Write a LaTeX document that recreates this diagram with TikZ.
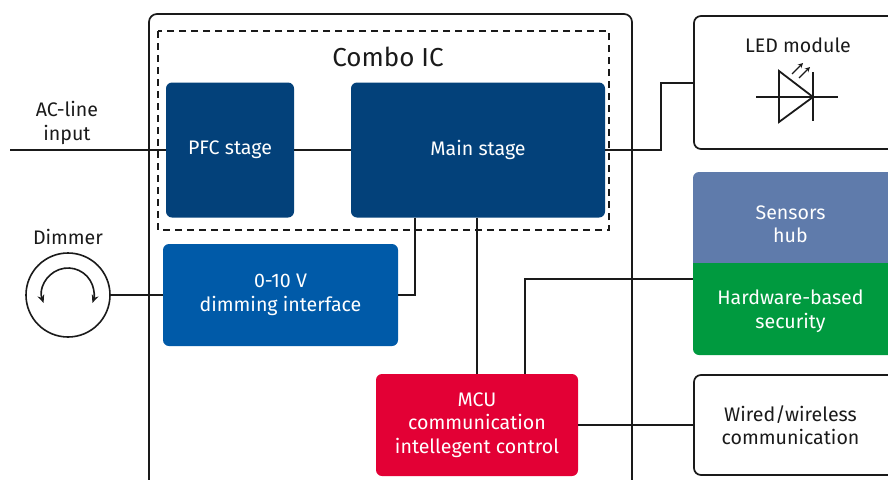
\documentclass[tikz,border=0pt]{standalone}
\usepackage{fontspec}
\setmainfont{Fira Sans}
\usetikzlibrary{arrows.meta}
\definecolor{navy}{HTML}{03417A}
\definecolor{dimblue}{HTML}{005AA8}
\definecolor{sensblue}{HTML}{5F7BAB}
\definecolor{secgreen}{HTML}{009A3F}
\definecolor{mcured}{HTML}{E30035}
\definecolor{ink}{HTML}{1A1A1A}
\begin{document}
\begin{tikzpicture}[x=1pt,y=-1pt,
  txt/.style={font=\fontsize{19.6}{23.5}\selectfont, align=center, inner sep=0pt},
  blockbox/.style={txt, text=white, rounded corners=6pt, minimum width=#1, anchor=center},
  wire/.style={line width=1.7pt, draw=ink},
  plainbox/.style={line width=1.7pt, draw=ink, rounded corners=7pt}]
\useasboundingbox (0,0) rectangle (888,479);
% outer board
\draw[plainbox, rounded corners=8pt] (149,495) -- (149,14) -- (632,14) -- (632,495);
% combo IC dashed frame
\draw[line width=1.9pt, draw=ink, dash pattern=on 7pt off 5pt] (158,31) rectangle (609,230);
\node[font=\fontsize{26}{30}\selectfont, text=ink] (combo) at (388,57) {Combo IC};
% blocks
\node[blockbox=128pt, fill=navy, minimum height=135pt] (pfc) at (230,150) {PFC stage};
\node[blockbox=254pt, fill=navy, minimum height=135pt] (main) at (478,150) {Main stage};
\node[blockbox=235pt, fill=dimblue, minimum height=102pt] (dim) at (280.5,295) {0-10 V\\dimming interface};
\node[blockbox=202pt, fill=mcured, minimum height=102pt] (mcu) at (477,425) {MCU\\communication\\intellegent control};
% right column
\draw[plainbox] (920,149) -- (694,149) -- (694,16) -- (920,16);
\node[txt, text=ink] (ledlabel) at (798,45) {LED module};
\fill[sensblue] (693,290) [rounded corners=6pt] -- (693,172) [sharp corners] -- (920,172) -- (920,290) -- cycle;
\fill[secgreen] (693,263) -- (920,263) -- (920,355) [rounded corners=6pt] -- (693,355) [sharp corners] -- cycle;
\node[txt, text=white, minimum width=195pt, minimum height=91pt] (sens) at (790.5,224) {Sensors\\hub};
\node[txt, text=white, minimum width=195pt, minimum height=92pt] (sec) at (790.5,311) {Hardware-based\\security};
\draw[plainbox] (920,475) -- (694,475) -- (694,375) -- (920,375);
\node[txt, text=ink, minimum width=195pt, minimum height=100pt] (wired) at (790.5,425) {Wired/wireless\\communication};
\coordinate (ledin) at (694,83);
\coordinate (wiredin) at (694,425);
% LED symbol
\draw[line width=1.8pt, draw=ink] (756,97) -- (838,97);
\draw[line width=1.8pt, draw=ink, line join=miter] (779,71) -- (813,97) -- (779,122) -- cycle;
\draw[line width=1.8pt, draw=ink] (813,72) -- (813,121);
\draw[line width=1.3pt, draw=ink, -{Stealth[length=5pt,width=5pt]}] (792,74) -- (803,63);
\draw[line width=1.3pt, draw=ink, -{Stealth[length=5pt,width=5pt]}] (799,78) -- (810,67);
% left side
\coordinate (acin) at (10,150);
\node[txt, text=ink] (aclabel) at (67,123) {AC-line\\input};
\node[circle, draw=ink, line width=1.6pt, minimum size=84pt, inner sep=0pt] (dimmer) at (68,295) {};
\draw[line width=1.6pt, draw=ink, {Stealth[length=8pt,width=7pt]}-{Stealth[length=8pt,width=7pt]}] ([shift={(160:26)}]68,294) arc (160:380:26);
\node[txt, text=ink] (dimlabel) at (68,237) {Dimmer};
% connectors
\draw[wire] (acin) -- (acin -| pfc.west);
\draw[wire] (pfc.east) -- (main.west);
\draw[wire] (main.east) -- (661,150) |- (ledin);
\draw[wire] (main.south -| 415,0) |- (dim.east);
\draw[wire] (dimmer.east) -- (dim.west);
\draw[wire] (main.south -| mcu.north) -- (mcu.north);
\draw[wire] (mcu.north -| 525,0) |- (sec.west |- 0,279);
\draw[wire] (mcu.east) -- (wiredin);
\end{tikzpicture}
\end{document}
